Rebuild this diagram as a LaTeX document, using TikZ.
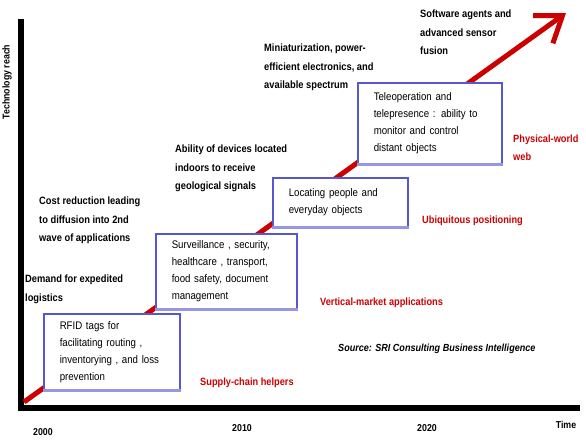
\documentclass[tikz,border=0pt]{standalone}
\usepackage{fontspec}
\setmainfont{Liberation Sans}[FakeStretch=0.88]
\usetikzlibrary{arrows.meta,positioning}
\definecolor{roadred}{RGB}{204,0,0}
\definecolor{boxblue}{RGB}{88,88,205}
\definecolor{boxshade}{RGB}{150,150,228}

\begin{document}
\begin{tikzpicture}[
      x=1pt, y=-1pt,
      axis/.style={line width=6pt, black},
      trend/.style={roadred, line width=5pt, -{Straight Barb[length=24pt,width=34pt]}},
      appbox/.style={draw=boxblue, line width=1.5pt, fill=white, anchor=north west, align=left, inner xsep=16pt, inner ysep=0pt, font=\fontsize{11}{17}\selectfont,
        append after command={(\tikzlastnode.south west) edge[draw=boxshade, line width=2.5pt] (\tikzlastnode.south east)}},
      driver/.style={anchor=north west, inner sep=0pt, align=left, font=\bfseries\fontsize{10.6}{18.5}\selectfont},
      phase/.style={anchor=west, inner sep=0pt, align=left, text=roadred, font=\bfseries\fontsize{10.5}{18}\selectfont},
      year/.style={inner sep=0pt, font=\bfseries\fontsize{10}{12}\selectfont}
  ]
      \useasboundingbox (0,0) rectangle (586,439);

      % Axes
      \coordinate (ytop) at (21,19);
      \coordinate (orig) at (21,408);
      \coordinate (xend) at (580,408);
      \draw[axis] (ytop) -- (orig) -- (xend);
      \node[year, rotate=90] (ylab) at (7,82) {Technology reach};
      \node[year] (y2000) at (43,432) {2000};
      \node[year] (y2010) at (242,428) {2010};
      \node[year] (y2020) at (427,428) {2020};
      \node[year] (time) at (566,425) {Time};

      % Trend arrow (behind the boxes)
      \coordinate (start) at (24,402);
      \coordinate (tip) at (566,13);
      \draw[trend] (start) -- (tip);

      % Applications
      \node[appbox, text width=104pt, minimum height=76pt] (rfid) at (43,313) {
          RFID tags for\\
          facilitating routing ,\\
          inventorying , and loss\\
          prevention
      };
      \node[appbox, text width=109pt, minimum height=75pt] (surv) at (155,233) {
          Surveillance , security,\\
          healthcare , transport,\\
          food safety, document\\
          management
      };
      \node[appbox, text width=103pt, minimum height=49pt] (locate) at (272,177) {
          Locating people and\\
          everyday objects
      };
      \node[appbox, text width=112pt, minimum height=81pt] (tele) at (357,82) {
          Teleoperation and\\
          telepresence : ability to\\
          monitor and control\\
          distant objects
      };

      % Drivers
      \node[driver] (demand) at (25,275) {Demand for expedited\\logistics};
      \node[driver] (cost) at (39,197) {Cost reduction leading\\to diffusion into 2nd\\wave of applications};
      \node[driver] (ability) at (175,145) {Ability of devices located\\indoors to receive\\geological signals};
      \node[driver] (mini) at (264,44) {Miniaturization, power-\\efficient electronics, and\\available spectrum};
      \node[driver] (agents) at (420,10) {Software agents and\\advanced sensor\\fusion};

      % Phases
      \node[phase] (supply) at (200,383) {Supply-chain helpers};
      \node[phase] (vertical) at (320,303) {Vertical-market applications};
      \node[phase] (ubiq) at (422,221) {Ubiquitous positioning};
      \node[phase, anchor=north west] (web) at (513,135) {Physical-world\\web};

      \node[anchor=west, inner sep=0pt, font=\bfseries\itshape\fontsize{10.3}{12}\selectfont] (source) at (338,349) {Source: SRI Consulting Business Intelligence};

  \end{tikzpicture}
\end{document}
